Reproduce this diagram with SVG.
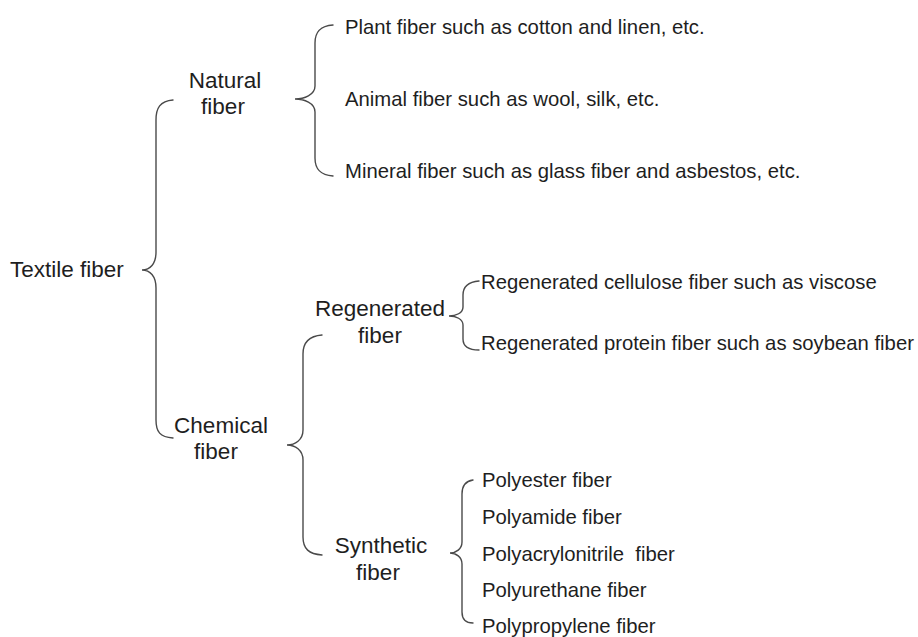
<svg xmlns="http://www.w3.org/2000/svg" width="918" height="637" viewBox="0 0 918 637">
<style>
.lbl{font-family:"Liberation Sans",Arial,sans-serif;font-size:22.5px;fill:#1e1e1e;text-anchor:middle}
.root{font-family:"Liberation Sans",Arial,sans-serif;font-size:22.5px;fill:#1e1e1e}
.leaf{font-family:"Liberation Sans",Arial,sans-serif;font-size:20.3px;fill:#1e1e1e}
.br{fill:none;stroke:#4a4a4a;stroke-width:1.4;stroke-linecap:round}
</style>
<rect width="918" height="637" fill="#ffffff"/>
<g id="connectors">
<path class="br" d="M173 100 C160 101 156 108 156 120 L156 252 C156 264 150 270 142 270 C150 270 156 276 156 288 L156 420 C156 432 160 437 173 438"/>
<path class="br" d="M333 25 C320 26 315 32 315 43 L315 86 C315 95 304 99 295 99 C304 99 315 103 315 112 L315 158 C315 169 320 175 333 176"/>
<path class="br" d="M322 335 C309 336 303 342 303 354 L303 430 C303 440 295 445 287 445 C295 445 303 450 303 460 L303 537 C303 549 309 554 322 555"/>
<path class="br" d="M479 281 C468 282 463 287 463 295 L463 307 C463 313 456 316 449 316 C456 316 463 319 463 325 L463 339 C463 346 468 350 479 350"/>
<path class="br" d="M473 480 C466 481 462 486 462 494 L462 542 C462 549 456 553 450 553 C456 553 462 557 462 564 L462 612 C462 619 466 623 473 623"/>
</g>
<g id="textile"><text class="root" x="10" y="277">Textile fiber</text></g>
<g id="natural"><text class="lbl" x="225" y="88">Natural</text><text class="lbl" x="223" y="114">fiber</text></g>
<g id="chemical"><text class="lbl" x="221" y="433">Chemical</text><text class="lbl" x="216" y="459">fiber</text></g>
<g id="regenerated"><text class="lbl" x="380" y="316">Regenerated</text><text class="lbl" x="380" y="343">fiber</text></g>
<g id="synthetic"><text class="lbl" x="381" y="553">Synthetic</text><text class="lbl" x="378" y="580">fiber</text></g>
<g id="plant"><text class="leaf" x="345" y="34">Plant fiber such as cotton and linen, etc.</text></g>
<g id="animal"><text class="leaf" x="345" y="106">Animal fiber such as wool, silk, etc.</text></g>
<g id="mineral"><text class="leaf" x="345" y="178">Mineral fiber such as glass fiber and asbestos, etc.</text></g>
<g id="cellulose"><text class="leaf" x="481" y="289">Regenerated cellulose fiber such as viscose</text></g>
<g id="protein"><text class="leaf" x="481" y="350">Regenerated protein fiber such as soybean fiber</text></g>
<g id="polyester"><text class="leaf" x="482" y="487">Polyester fiber</text></g>
<g id="polyamide"><text class="leaf" x="482" y="524">Polyamide fiber</text></g>
<g id="polyacrylonitrile"><text class="leaf" x="482" y="561" xml:space="preserve">Polyacrylonitrile  fiber</text></g>
<g id="polyurethane"><text class="leaf" x="482" y="597">Polyurethane fiber</text></g>
<g id="polypropylene"><text class="leaf" x="482" y="633">Polypropylene fiber</text></g>
</svg>
